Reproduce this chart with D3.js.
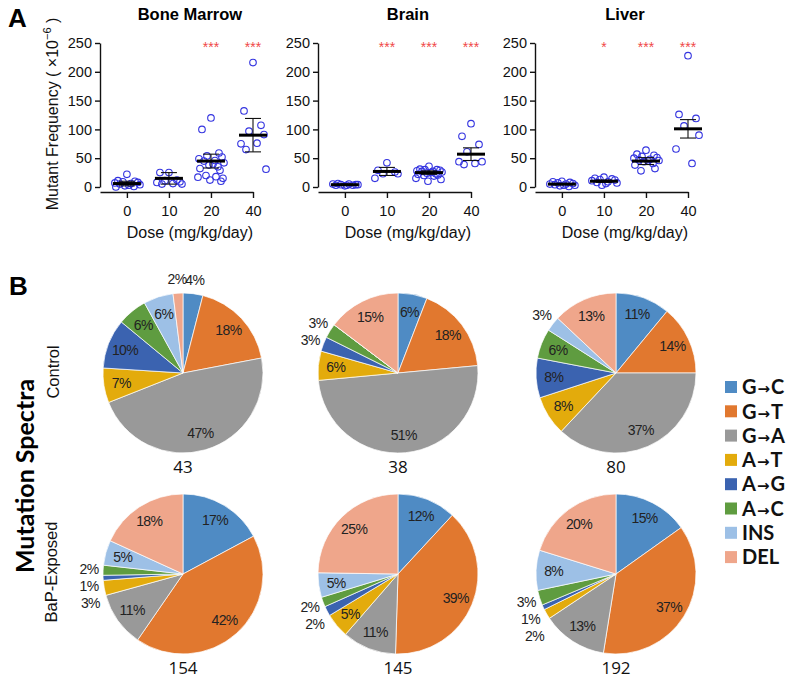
<!DOCTYPE html>
<html>
<head>
<meta charset="utf-8">
<script src="https://cdn.jsdelivr.net/npm/d3@7"></script>
<style>
  body { margin: 0; background: #fff; }
  svg { display: block; font-family: "Liberation Sans", Arial, sans-serif; }
</style>
</head>
<body>
<svg id="fig" width="800" height="683"></svg>
<script>
// ---- panel A data (mutant frequency x10^-6) ----
const doses = ["0", "10", "20", "40"];

const bmPoints = [
  [22, 11, 10, 9, 8, 7, 6, 5, 4, 3, 2, 1, 0],
  [25, 25, 12, 11, 9, 8, 6, 5, 5],
  [120, 100, 59, 54, 52, 49, 46, 45, 42, 40, 38, 35, 32, 29, 20, 18, 17, 15, 12, 10],
  [216, 132, 107, 97, 91, 75, 76, 65, 31]
];
const bmMean = [6, 15, 45, 90];
const bmErr = [4, 10, 12, 29];
const bmSig = ["", "", "***", "***"];

const brainPoints = [
  [2, 3, 3, 4, 4, 5, 5, 6, 4, 3],
  [42, 29, 26, 23, 23, 15],
  [36, 31, 30, 30, 29, 28, 27, 27, 26, 25, 24, 23, 22, 21, 20, 19, 15, 13, 10],
  [110, 88, 74, 61, 44, 44, 41, 39]
];
const brainMean = [4, 27, 25, 57];
const brainErr = [1, 7, 3, 11];
const brainSig = ["", "***", "***", "***"];

const liverPoints = [
  [10, 9, 8, 7, 6, 5, 5, 4, 3, 3, 2, 1],
  [17, 15, 14, 13, 12, 11, 9, 8, 7, 6, 3],
  [64, 57, 55, 53, 51, 50, 48, 47, 46, 45, 44, 41, 38, 32, 28],
  [228, 126, 119, 106, 90, 66, 41]
];
const liverMean = [5, 10, 45, 101];
const liverErr = [1, 2, 6, 16];
const liverSig = ["", "*", "***", "***"];

// ---- panel B data (percent of mutations) ----
const mutTypes = ["G→C", "G→T", "G→A", "A→T", "A→G", "A→C", "INS", "DEL"];
const mutColors = ["#4f8bc4", "#e1782f", "#999999", "#e3ab0c", "#3b63b0", "#5f9c40", "#9dc0e6", "#efa68b"];

const ctrlBoneMarrow = [4, 18, 47, 7, 10, 6, 6, 2];
const ctrlBrain      = [6, 18, 51, 6, 3, 3, 0, 15];
const ctrlLiver      = [11, 14, 37, 8, 8, 6, 3, 13];
const bapBoneMarrow  = [17, 42, 11, 3, 1, 2, 5, 18];
const bapBrain       = [12, 39, 11, 5, 2, 2, 5, 25];
const bapLiver       = [15, 37, 13, 2, 1, 3, 8, 20];
const ctrlTotals = [43, 38, 80];
const bapTotals = [154, 145, 192];

const svg = d3.select("#fig");
const jitter = [0, -9, 8, -4, 11, -12, 4, -7, 13, 2, -2, 7, -11, 9, -5, 5, -13, 12, -1, 10];

function scatter(x0, title, points, means, errs, sig, yTitle) {
  const g = svg.append("g").attr("transform", `translate(${x0},43)`);
  const x = d3.scalePoint().domain(doses).range([0, 153]).padding(0.32).align(1);
  const y = d3.scaleLinear().domain([0, 250]).range([144, 0]);

  const yAxis = g.append("g")
    .call(d3.axisLeft(y).tickValues([0, 50, 100, 150, 200, 250]).tickSize(5).tickSizeOuter(0).tickPadding(3));
  const xAxis = g.append("g").attr("transform", "translate(0,149)")
    .call(d3.axisBottom(x).tickSize(6).tickSizeOuter(0).tickPadding(8));
  [yAxis, xAxis].forEach(a => {
    a.selectAll("path, line").attr("stroke", "#111").attr("stroke-width", 1.4);
    a.selectAll("text").attr("font-size", 14.5).attr("fill", "#111").attr("font-family", null);
  });

  const mid = (x(doses[0]) + x(doses[doses.length - 1])) / 2;
  g.append("text").attr("x", mid).attr("y", -23).attr("text-anchor", "middle")
    .attr("font-size", 16.5).attr("font-weight", "bold").text(title);
  g.append("text").attr("x", mid).attr("y", 195).attr("text-anchor", "middle")
    .attr("font-size", 16).attr("fill", "#111").text("Dose (mg/kg/day)");

  doses.forEach((d, i) => {
    const cx = x(d);
    g.append("g").selectAll("circle").data(points[i]).join("circle")
      .attr("cx", (v, j) => cx + jitter[j % jitter.length])
      .attr("cy", v => y(v))
      .attr("r", 3.3)
      .attr("fill", "none")
      .attr("stroke", "#3434e0")
      .attr("stroke-width", 1.1);

    const m = means[i], e = errs[i];
    g.append("line").attr("x1", cx).attr("x2", cx).attr("y1", y(m + e)).attr("y2", y(m - e))
      .attr("stroke", "#111").attr("stroke-width", 1.1);
    [m + e, m - e].forEach(v => {
      g.append("line").attr("x1", cx - 8).attr("x2", cx + 8).attr("y1", y(v)).attr("y2", y(v))
        .attr("stroke", "#111").attr("stroke-width", 1.1);
    });
    g.append("line").attr("x1", cx - 14).attr("x2", cx + 14).attr("y1", y(m)).attr("y2", y(m))
      .attr("stroke", "#000").attr("stroke-width", 3);

    if (sig[i]) {
      g.append("text").attr("x", cx).attr("y", 9).attr("text-anchor", "middle")
        .attr("font-size", 14).attr("fill", "#f04848").text(sig[i]);
    }
  });

  if (yTitle) {
    const t = svg.append("text").attr("transform", "translate(58,114) rotate(-90)")
      .attr("text-anchor", "middle").attr("font-size", 16).attr("fill", "#111");
    t.append("tspan").text("Mutant Frequency ( ×10");
    t.append("tspan").attr("dy", -7).attr("font-size", 11).text("−6");
    t.append("tspan").attr("dy", 7).text(" )");
  }
}

scatter(100, "Bone Marrow", bmPoints, bmMean, bmErr, bmSig, true);
scatter(318, "Brain", brainPoints, brainMean, brainErr, brainSig, false);
scatter(535, "Liver", liverPoints, liverMean, liverErr, liverSig, false);

svg.append("text").attr("x", 8).attr("y", 27).attr("font-size", 26).attr("font-weight", "bold").text("A");
svg.append("text").attr("x", 9).attr("y", 295).attr("font-size", 26).attr("font-weight", "bold").text("B");

// ---- panel B pies ----
const R = 80;
const pieGen = d3.pie().sort(null).value(d => d);
const arcGen = d3.arc().innerRadius(0).outerRadius(R);

function pie(cx, cy, values, total) {
  const g = svg.append("g").attr("transform", `translate(${cx},${cy})`);
  const arcs = pieGen(values);
  g.selectAll("path").data(arcs).join("path")
    .attr("d", arcGen)
    .attr("fill", (d, i) => mutColors[i])
    .attr("stroke", "#fff").attr("stroke-width", 0.7);

  const labels = arcs.filter(a => a.value > 0).map(a => {
    const mid = (a.startAngle + a.endAngle) / 2;
    const out = a.value < 5;
    const rr = out ? R + 14 : R * 0.78;
    const lx = Math.sin(mid) * rr, ly = -Math.cos(mid) * rr;
    return { a, mid, out, lx, ly, y0: ly };
  });
  // push outside labels apart on each side
  [-1, 1].forEach(side => {
    const s = labels.filter(l => l.out && Math.sign(l.lx) === side).sort((p, q) => p.ly - q.ly);
    for (let i = 1; i < s.length; i++) {
      if (s[i].ly < s[i - 1].ly + 17) s[i].ly = s[i - 1].ly + 17;
    }
  });

  labels.forEach(l => {
    if (l.out && Math.abs(l.ly - l.y0) > 15) {
      const side = Math.sign(l.lx);
      g.append("polyline")
        .attr("points", [[l.lx - side * 9, l.ly + 4], [Math.sin(l.mid) * R, -Math.cos(l.mid) * R]].join(" "))
        .attr("fill", "none").attr("stroke", "#888").attr("stroke-width", 0.8);
    }
    g.append("text").attr("x", l.lx).attr("y", l.ly).attr("dy", "0.35em")
      .attr("text-anchor", "middle").attr("font-size", 14).attr("letter-spacing", -0.6)
      .attr("fill", "#222").text(l.a.value + "%");
  });

  g.append("text").attr("x", 0).attr("y", R + 14).attr("dy", "0.35em").attr("text-anchor", "middle")
    .attr("font-family", "'Open Sans', sans-serif").attr("font-size", 17).attr("fill", "#111").text(total);
}

const pieX = [183, 398, 616];
[ctrlBoneMarrow, ctrlBrain, ctrlLiver].forEach((v, i) => pie(pieX[i], 373, v, ctrlTotals[i]));
[bapBoneMarrow, bapBrain, bapLiver].forEach((v, i) => pie(pieX[i], 574, v, bapTotals[i]));

svg.append("text").attr("transform", "translate(59,372) rotate(-90)").attr("text-anchor", "middle")
  .attr("font-size", 16.5).attr("fill", "#111").text("Control");
svg.append("text").attr("transform", "translate(57,572) rotate(-90)").attr("text-anchor", "middle")
  .attr("font-size", 16.5).attr("fill", "#111").text("BaP-Exposed");
svg.append("text").attr("transform", "translate(34,476) rotate(-90)").attr("text-anchor", "middle")
  .attr("font-family", "Lato, sans-serif").attr("font-size", 25).attr("font-weight", "bold").text("Mutation Spectra");

// legend
const leg = svg.append("g").attr("transform", "translate(725,387)");
const row = leg.selectAll("g").data(mutTypes).join("g").attr("transform", (d, i) => `translate(0,${i * 24.3})`);
row.append("rect").attr("x", 0).attr("y", -6).attr("width", 12).attr("height", 12).attr("fill", (d, i) => mutColors[i]);
row.append("text").attr("x", 17).attr("dy", "0.36em").attr("font-family", "Lato, sans-serif")
  .attr("font-size", 20).attr("font-weight", "bold").attr("fill", "#111")
  .each(function (d) {
    const t = d3.select(this);
    if (d.includes("→")) {
      const [a, b] = d.split("→");
      t.append("tspan").text(a);
      t.append("tspan").attr("font-size", 15).attr("font-family", "'DejaVu Sans', sans-serif").attr("dx", 1).text("→");
      t.append("tspan").attr("dx", 1).text(b);
    } else {
      t.text(d);
    }
  });
</script>
</body>
</html>
